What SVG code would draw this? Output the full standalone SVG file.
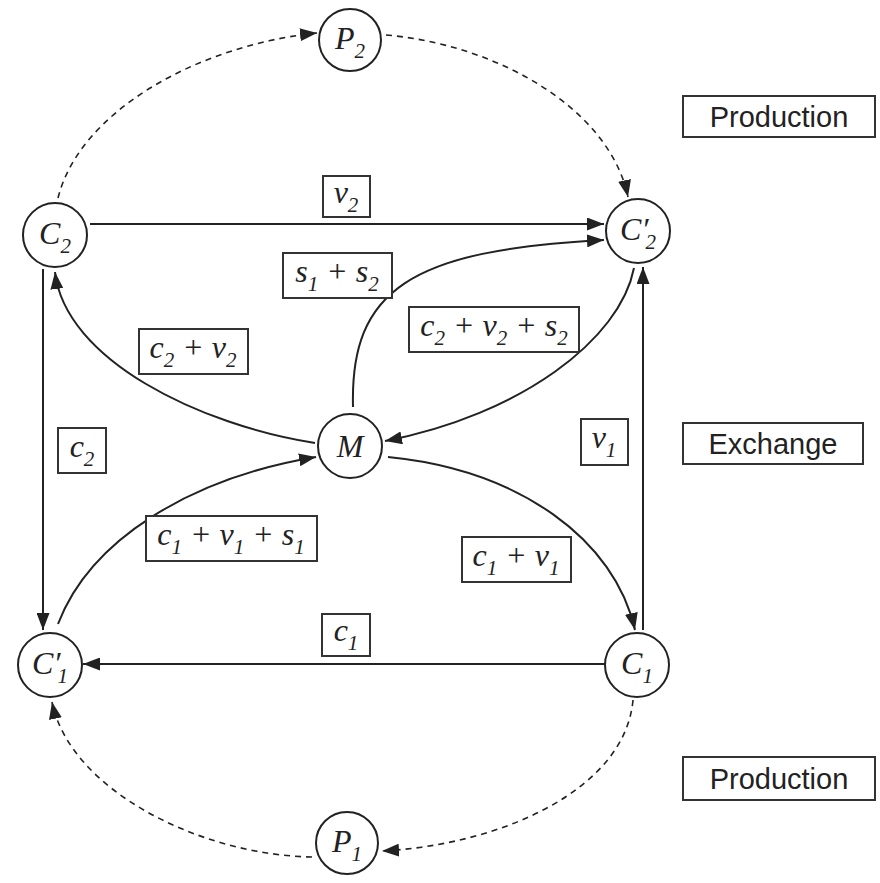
<svg xmlns="http://www.w3.org/2000/svg" width="880" height="883" viewBox="0 0 880 883">
<style>
.node circle{fill:#fff;stroke:#222;stroke-width:2}
.m{font-family:"Liberation Serif","DejaVu Serif",serif;font-style:italic;font-size:32px;fill:#222}
.sub{font-size:21px}
.lab rect{fill:#fff;stroke:#333;stroke-width:2}
.sec rect{fill:#fff;stroke:#333;stroke-width:2}
.sec text{font-family:"Liberation Sans",Arial,sans-serif;font-size:29px;fill:#222}
.edge{fill:none;stroke:#222;stroke-width:2}
.dash{fill:none;stroke:#222;stroke-width:1.6;stroke-dasharray:6 5}
</style>
<defs>
<marker id="ahl" viewBox="0 0 10 10" refX="10" refY="5" markerWidth="17" markerHeight="13" markerUnits="userSpaceOnUse" orient="auto" preserveAspectRatio="none">
<path d="M0,0 L10,5 L0,10 z" fill="#222"/>
</marker>
</defs>
<rect width="880" height="883" fill="#fff"/>

<g id="connectors">
<path class="edge" d="M90,224 L604,224" marker-end="url(#ahl)"/>
<path class="edge" d="M353,407 C350,290 410,250 604,240" marker-end="url(#ahl)"/>
<path class="edge" d="M634,268 C620,340 520,415 385,441" marker-end="url(#ahl)"/>
<path class="edge" d="M315,443 C200,425 65,360 55,272" marker-end="url(#ahl)"/>
<path class="edge" d="M58,624 C90,540 190,478 316,457" marker-end="url(#ahl)"/>
<path class="edge" d="M388,457 C520,470 615,540 635,630" marker-end="url(#ahl)"/>
<path class="edge" d="M43,269 L43,630" marker-end="url(#ahl)"/>
<path class="edge" d="M643,630 L643,267" marker-end="url(#ahl)"/>
<path class="edge" d="M605,664 L83,664" marker-end="url(#ahl)"/>
<path class="dash" d="M58,198 C80,110 200,45 317,33" marker-end="url(#ahl)"/>
<path class="dash" d="M386,35 C500,45 610,110 628,197" marker-end="url(#ahl)"/>
<path class="dash" d="M633,700 C625,790 500,845 382,851" marker-end="url(#ahl)"/>
<path class="dash" d="M312,857 C200,855 70,790 52,702" marker-end="url(#ahl)"/>
</g>

<g id="P2" class="node"><circle cx="350" cy="40" r="31"/><text class="m" x="350" y="49" text-anchor="middle">P<tspan class="sub" dy="9">2</tspan></text></g>
<g id="C2" class="node"><circle cx="55" cy="235" r="32"/><text class="m" x="55" y="244" text-anchor="middle">C<tspan class="sub" dy="9">2</tspan></text></g>
<g id="C2p" class="node"><circle cx="638" cy="231" r="32"/><text class="m" x="638" y="240" text-anchor="middle">C′<tspan class="sub" dx="-3" dy="9">2</tspan></text></g>
<g id="M" class="node"><circle cx="350" cy="446" r="32"/><text class="m" x="350" y="457" text-anchor="middle">M</text></g>
<g id="C1p" class="node"><circle cx="50" cy="665" r="32"/><text class="m" x="50" y="674" text-anchor="middle">C′<tspan class="sub" dx="-3" dy="9">1</tspan></text></g>
<g id="C1" class="node"><circle cx="637" cy="665" r="32"/><text class="m" x="637" y="674" text-anchor="middle">C<tspan class="sub" dy="9">1</tspan></text></g>
<g id="P1" class="node"><circle cx="347" cy="843" r="31"/><text class="m" x="347" y="852" text-anchor="middle">P<tspan class="sub" dy="9">1</tspan></text></g>

<g id="lab-v2" class="lab"><rect x="323" y="176" width="47" height="41"/><text class="m" x="346" y="203" text-anchor="middle">v<tspan class="sub" dy="9">2</tspan></text></g>
<g id="lab-s1s2" class="lab"><rect x="283" y="253" width="109" height="45"/><text class="m" x="337" y="282" text-anchor="middle">s<tspan class="sub" dy="9">1</tspan><tspan dy="-9"> + s</tspan><tspan class="sub" dy="9">2</tspan></text></g>
<g id="lab-c2v2s2" class="lab"><rect x="409" y="307" width="170" height="45"/><text class="m" x="494" y="336" text-anchor="middle">c<tspan class="sub" dy="9">2</tspan><tspan dy="-9"> + v</tspan><tspan class="sub" dy="9">2</tspan><tspan dy="-9"> + s</tspan><tspan class="sub" dy="9">2</tspan></text></g>
<g id="lab-c2v2" class="lab"><rect x="139" y="329" width="109" height="45"/><text class="m" x="193" y="358" text-anchor="middle">c<tspan class="sub" dy="9">2</tspan><tspan dy="-9"> + v</tspan><tspan class="sub" dy="9">2</tspan></text></g>
<g id="lab-c2" class="lab"><rect x="58" y="428" width="48" height="45"/><text class="m" x="82" y="457" text-anchor="middle">c<tspan class="sub" dy="9">2</tspan></text></g>
<g id="lab-v1" class="lab"><rect x="581" y="419" width="47" height="46"/><text class="m" x="604" y="448" text-anchor="middle">v<tspan class="sub" dy="9">1</tspan></text></g>
<g id="lab-c1v1s1" class="lab"><rect x="146" y="516" width="171" height="45"/><text class="m" x="231" y="545" text-anchor="middle">c<tspan class="sub" dy="9">1</tspan><tspan dy="-9"> + v</tspan><tspan class="sub" dy="9">1</tspan><tspan dy="-9"> + s</tspan><tspan class="sub" dy="9">1</tspan></text></g>
<g id="lab-c1v1" class="lab"><rect x="462" y="537" width="109" height="45"/><text class="m" x="516" y="566" text-anchor="middle">c<tspan class="sub" dy="9">1</tspan><tspan dy="-9"> + v</tspan><tspan class="sub" dy="9">1</tspan></text></g>
<g id="lab-c1" class="lab"><rect x="322" y="614" width="48" height="42"/><text class="m" x="346" y="641" text-anchor="middle">c<tspan class="sub" dy="9">1</tspan></text></g>

<g id="sec-prod-top" class="sec"><rect x="683" y="96" width="192" height="41"/><text x="779" y="127" text-anchor="middle">Production</text></g>
<g id="sec-exchange" class="sec"><rect x="683" y="423" width="180" height="41"/><text x="773" y="454" text-anchor="middle">Exchange</text></g>
<g id="sec-prod-bot" class="sec"><rect x="683" y="757" width="192" height="43"/><text x="779" y="789" text-anchor="middle">Production</text></g>
</svg>
